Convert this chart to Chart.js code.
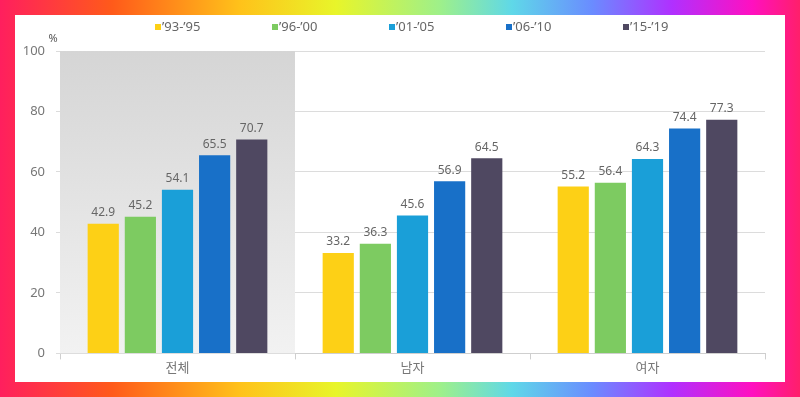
<!doctype html>
<html lang="ko">
<head>
  <meta charset="utf-8">
  <title>chart</title>
  <script src="https://cdn.jsdelivr.net/npm/chart.js@4.4.1/dist/chart.umd.min.js"></script>
  <style>
    html, body {
      margin: 0;
      padding: 0;
    }
    body {
      width: 800px;
      height: 397px;
      position: relative;
      overflow: hidden;
      background: linear-gradient(90deg, #ff1f5e 0%, #ff5a1a 14%, #ffc21a 30%, #e8f52a 42%, #9ef08a 55%, #5fd8e8 64%, #6a8cff 74%, #b030ff 84%, #ff10c0 94%, #ff1f6a 100%);
    }
    #frame {
      position: absolute;
      left: 15px;
      top: 15px;
      width: 770px;
      height: 367px;
      background: #fff;
    }
    #chart {
      display: block;
    }
  </style>
</head>
<body>
  <div id="frame"><canvas id="chart" width="770" height="367"></canvas></div>
  <script>
    const categories = ['전체', '남자', '여자'];
    const periods = ['\u201993-\u201995', '\u201996-\u201900', '\u201901-\u201905', '\u201906-\u201910', '\u201915-\u201919'];
    const p93 = [42.9, 33.2, 55.2];
    const p96 = [45.2, 36.3, 56.4];
    const p01 = [54.1, 45.6, 64.3];
    const p06 = [65.5, 56.9, 74.4];
    const p15 = [70.7, 64.5, 77.3];
    const yTicks = [0, 20, 40, 60, 80, 100];

    const colors = ['#fdd016', '#7dcb61', '#1a9fd8', '#1870c8', '#4f4861'];
    const series = [p93, p96, p01, p06, p15];

    // grey panel behind the first group
    const panel = {
      id: 'panel',
      beforeDatasetsDraw(chart) {
        const { ctx, chartArea: a, scales: { x } } = chart;
        const edge = (x.getPixelForValue(0) + x.getPixelForValue(1)) / 2;
        const g = ctx.createLinearGradient(0, a.top, 0, a.bottom);
        g.addColorStop(0, '#d5d5d5');
        g.addColorStop(1, '#f2f2f2');
        ctx.save();
        ctx.fillStyle = g;
        ctx.fillRect(a.left, a.top, edge - a.left, a.bottom - a.top);
        ctx.restore();
      }
    };

    // value labels, legend, % unit
    const extras = {
      id: 'extras',
      afterDatasetsDraw(chart) {
        const { ctx, chartArea: a } = chart;
        ctx.save();
        ctx.font = '12px "Noto Sans", sans-serif';
        ctx.fillStyle = '#666';
        ctx.textAlign = 'center';
        ctx.textBaseline = 'bottom';
        chart.data.datasets.forEach((ds, i) => {
          chart.getDatasetMeta(i).data.forEach((bar, j) => {
            ctx.fillText(ds.data[j].toFixed(1), bar.x, bar.y - 5);
          });
        });

        ctx.font = '11px "Noto Sans", sans-serif';
        ctx.fillStyle = '#555';
        ctx.textBaseline = 'middle';
        ctx.fillText('%', a.left - 7, a.top - 12);

        // legend
        const step = 117;
        const x0 = 140;
        ctx.font = '13px "Noto Sans", sans-serif';
        ctx.textAlign = 'left';
        chart.data.datasets.forEach((ds, i) => {
          const bx = x0 + i * step;
          ctx.fillStyle = ds.backgroundColor;
          ctx.fillRect(bx, 9, 6, 6);
          ctx.fillStyle = '#666';
          ctx.fillText(ds.label, bx + 7, 12);
        });
        ctx.restore();
      }
    };

    new Chart(document.getElementById('chart'), {
      type: 'bar',
      data: {
        labels: categories,
        datasets: series.map((d, i) => ({
          label: periods[i],
          data: d,
          backgroundColor: colors[i],
          categoryPercentage: 0.79,
          barPercentage: 0.84
        }))
      },
      options: {
        responsive: false,
        animation: false,
        devicePixelRatio: 1,
        layout: { padding: { left: 0, right: 20, top: 36, bottom: 7 } },
        plugins: {
          legend: { display: false },
          tooltip: { enabled: false }
        },
        scales: {
          x: {
            offset: true,
            grid: {
              offset: true,
              drawOnChartArea: true,
              color: c => (c.index === 3 ? '#d4d4d4' : 'rgba(0,0,0,0)'),
              tickColor: '#cfcfcf',
              tickLength: 6
            },
            border: { color: '#cfcfcf' },
            ticks: {
              color: '#777',
              padding: 0,
              font: { size: 13, family: '"Noto Sans CJK KR", sans-serif' }
            }
          },
          y: {
            min: 0,
            max: 100,
            afterBuildTicks: s => { s.ticks = yTicks.map(v => ({ value: v })); },
            afterFit: s => { s.width = 45; },
            grid: { color: '#dcdcdc', tickLength: 4 },
            border: { color: '#cfcfcf' },
            ticks: {
              color: '#777',
              padding: 11,
              font: { size: 13, family: '"Noto Sans", sans-serif' }
            }
          }
        }
      },
      plugins: [panel, extras]
    });
  </script>
</body>
</html>
